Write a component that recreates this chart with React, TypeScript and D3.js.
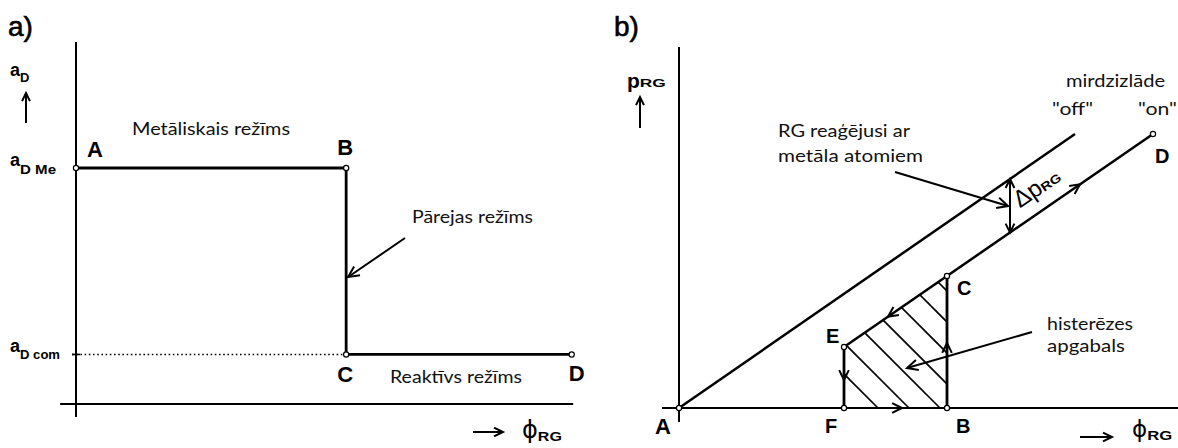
import React from "react";
import * as d3 from "d3";

const W = 1178;
const H = 448;

// Panel a): deposition rate a_D against reactive gas flow
const modeLabels = ["A", "B", "C", "D"];
const modePhi = [0, 0.545, 0.545, 1.0];
const modeRate = [1.0, 1.0, 0.21, 0.21];

// Panel b): reactive gas pressure p_RG against flow
const loopLabels = ["A", "F", "B", "C", "E", "D"];
const loopPhi = [0, 1.65, 2.68, 2.68, 1.65, 4.74];
const loopP = [0, 0, 0, 1.32, 0.61, 2.74];
const offLinePhi = [0, 3.96];
const offLineP = [0, 2.74];
const onLinePhi = [1.65, 4.74];
const onLineP = [0.61, 2.74];
const deltaPhi = 3.31;
const onArrowPhi = 4.01;
const hatchPhi = [1.99, 2.3, 2.61, 2.92, 3.23, 3.54, 3.85];

const xA = d3.scaleLinear().domain([0, 1]).range([76, 571.7]);
const yA = d3.scaleLinear().domain([0, 1]).range([404, 168]);
const xB = d3.scaleLinear().domain([0, 1]).range([679, 779]);
const yB = d3.scaleLinear().domain([0, 1]).range([408, 308]);

const ARIAL = "'Liberation Sans', Arial, sans-serif";
const SOFT = "Lato, 'Open Sans', sans-serif";
const STROKE = "#000";

// open chevron arrowhead; angle is the pointing direction in screen space
function head(x: number, y: number, angle: number, len = 10, spread = 26) {
  const a = (angle * Math.PI) / 180;
  const s = (spread * Math.PI) / 180;
  const p1 = [x - len * Math.cos(a - s), y - len * Math.sin(a - s)];
  const p2 = [x - len * Math.cos(a + s), y - len * Math.sin(a + s)];
  return `M${p1[0]},${p1[1]}L${x},${y}L${p2[0]},${p2[1]}`;
}

function Arrow({ x1, y1, x2, y2, len = 10, w = 2 }: any) {
  const ang = (Math.atan2(y2 - y1, x2 - x1) * 180) / Math.PI;
  return (
    <g stroke={STROKE} strokeWidth={w} fill="none">
      <line x1={x1} y1={y1} x2={x2} y2={y2} />
      <path d={head(x2, y2, ang, len)} />
    </g>
  );
}

function Dot({ x, y }: any) {
  return <circle cx={x} cy={y} r={2.6} fill="#fff" stroke={STROKE} strokeWidth={1.2} />;
}

function Sub({ x, y, main, sub, size = 18, subSize = 14, dy = 6, subLen }: any) {
  return (
    <text x={x} y={y} fontFamily={ARIAL} fontSize={size} fontWeight="bold" fill="#000">
      {main}
      <tspan fontSize={subSize} dy={dy} textLength={subLen} lengthAdjust="spacingAndGlyphs">
        {sub}
      </tspan>
    </text>
  );
}

function Soft({ x, y, text, len, size = 16 }: any) {
  return (
    <text x={x} y={y} fontFamily={SOFT} fontSize={size} textLength={len} lengthAdjust="spacingAndGlyphs" fill="#111">
      {text}
    </text>
  );
}

function Letter({ x, y, t, size = 21 }: any) {
  return (
    <text x={x} y={y} fontFamily={ARIAL} fontWeight="bold" fontSize={size} fill="#000">
      {t}
    </text>
  );
}

function PanelA() {
  const pts = modePhi.map((p, i) => [xA(p), yA(modeRate[i])]);
  const line = d3.line();
  const offs = [
    [11, -11],
    [-9, -13],
    [-9, 28],
    [-3, 27],
  ];
  const [bx] = pts[1];
  const [cx, cy] = pts[2];
  return (
    <g>
      <text x={8} y={36} fontFamily={ARIAL} fontSize={28} stroke="#000" strokeWidth={0.6}>a)</text>
      {/* axes */}
      <line x1={xA(0)} y1={yA(-0.055)} x2={xA(0)} y2={yA(1.534)} stroke={STROKE} strokeWidth={2} />
      <line x1={xA(-0.032)} y1={yA(0)} x2={xA(1.003)} y2={yA(0)} stroke={STROKE} strokeWidth={2} />
      {/* dotted guide to a_D com */}
      <line x1={xA(0) - 4} y1={cy} x2={cx} y2={cy} stroke={STROKE} strokeWidth={1.6} strokeDasharray="1.6 2.6" />
      <line x1={xA(0) - 4} y1={cy} x2={xA(0) + 4} y2={cy} stroke={STROKE} strokeWidth={1.6} />
      {/* the mode curve */}
      <path d={line(pts as any) || ""} fill="none" stroke={STROKE} strokeWidth={2.8} />
      {pts.map(([x, y], i) => (
        <g key={i}>
          <Dot x={x} y={y} />
          <Letter x={x + offs[i][0]} y={y + offs[i][1]} t={modeLabels[i]} size={22} />
        </g>
      ))}
      {/* axis titles */}
      <Sub x={10} y={76} main="a" sub="D" size={18} subSize={13} dy={6} />
      <Arrow x1={26} y1={123} x2={26} y2={93} len={9} />
      <Sub x={10} y={166} main="a" sub="D Me" size={18} subSize={13} dy={8} subLen={36} />
      <Sub x={10} y={352} main="a" sub="D com" size={18} subSize={13} dy={7} subLen={40} />
      <Arrow x1={473} y1={432} x2={503} y2={432} len={10} />
      <text x={522} y={438} fontFamily="'DejaVu Sans', sans-serif" fontSize={24}>
        ϕ
        <tspan fontFamily={ARIAL} fontWeight="bold" fontSize={12} dy={3} textLength={24} lengthAdjust="spacingAndGlyphs">RG</tspan>
      </text>
      {/* mode names */}
      <Soft x={132} y={135} text="Metāliskais režīms" len={158} size={17} />
      <Soft x={412} y={223} text="Pārejas režīms" len={121} size={17} />
      <Soft x={390} y={383} text="Reaktīvs režīms" len={132} size={17} />
      <Arrow x1={405} y1={238} x2={bx + 2} y2={277} len={12} />
    </g>
  );
}

function PanelB() {
  const line = d3.line();
  const pts = loopPhi.map((p, i) => [xB(p), yB(loopP[i])]);
  const [, F, Bp, C, E] = pts;
  const offPts = offLinePhi.map((p, i) => [xB(p), yB(offLineP[i])]);
  const onPts = onLinePhi.map((p, i) => [xB(p), yB(onLineP[i])]);
  const onAt = (phi: number) =>
    onLineP[0] + ((onLineP[1] - onLineP[0]) / (onLinePhi[1] - onLinePhi[0])) * (phi - onLinePhi[0]);
  const offAt = (phi: number) => (offLineP[1] / offLinePhi[1]) * phi;
  const loopPoly = [F, Bp, C, E];
  const offs = [
    [-24, 26],
    [-19, 25],
    [9, 25],
    [10, 19],
    [-18, -4],
    [2, 29],
  ];
  const slopeDeg = (Math.atan2(yB(onLineP[1]) - yB(onLineP[0]), xB(onLinePhi[1]) - xB(onLinePhi[0])) * 180) / Math.PI;
  const dX = xB(deltaPhi);
  const dTop = yB(offAt(deltaPhi));
  const dBot = yB(onAt(deltaPhi));
  return (
    <g>
      <text x={614} y={36} fontFamily={ARIAL} fontSize={28} stroke="#000" strokeWidth={0.6}>b)</text>
      <defs>
        <clipPath id="loopClip">
          <polygon points={loopPoly.map((p) => p.join(",")).join(" ")} />
        </clipPath>
      </defs>
      {/* hysteresis hatch */}
      <g clipPath="url(#loopClip)" stroke={STROKE} strokeWidth={1.6}>
        {hatchPhi.map((h, i) => (
          <line key={i} x1={xB(h)} y1={yB(0)} x2={xB(h) - 220} y2={yB(0) - 220} />
        ))}
      </g>
      {/* axes */}
      <line x1={xB(0)} y1={yB(-0.14)} x2={xB(0)} y2={yB(3.61)} stroke={STROKE} strokeWidth={2} />
      <line x1={xB(-0.17)} y1={yB(0)} x2={xB(4.99)} y2={yB(0)} stroke={STROKE} strokeWidth={2.2} />
      {/* glow discharge off / on characteristics */}
      <path d={line(offPts as any) || ""} stroke={STROKE} strokeWidth={2.5} fill="none" />
      <path d={line(onPts as any) || ""} stroke={STROKE} strokeWidth={2.5} fill="none" />
      <line x1={F[0]} y1={F[1]} x2={E[0]} y2={E[1]} stroke={STROKE} strokeWidth={2.8} />
      <line x1={Bp[0]} y1={Bp[1]} x2={C[0]} y2={C[1]} stroke={STROKE} strokeWidth={2.8} />
      {/* direction marks around the loop */}
      <g stroke={STROKE} strokeWidth={2} fill="none">
        <path d={head(xB(2.23), yB(0), 0, 11)} />
        <path d={head(C[0], yB(0.65), -90, 11)} />
        <path d={head(E[0], yB(0.28), 90, 11)} />
        <path d={head(xB(2.09), yB(onAt(2.09)), 180 + slopeDeg, 11)} />
        <path d={head(xB(onArrowPhi), yB(onAt(onArrowPhi)), slopeDeg, 11)} />
      </g>
      {pts.map(([x, y], i) => (
        <g key={i}>
          <Dot x={x} y={y} />
          <Letter x={x + offs[i][0]} y={y + offs[i][1]} t={loopLabels[i]} size={i === 0 ? 22 : 20} />
        </g>
      ))}
      {/* Δp between the two lines */}
      <g stroke={STROKE} strokeWidth={2} fill="none">
        <line x1={dX} y1={dTop} x2={dX} y2={dBot} />
        <path d={head(dX, dTop, -90, 10)} />
        <path d={head(dX, dBot, 90, 10)} />
      </g>
      <g transform={`translate(${dX + 10},${dBot - 24}) rotate(${slopeDeg})`}>
        <text x={0} y={0} fontFamily={ARIAL} fontSize={24}>
          Δp
          <tspan fontWeight="bold" fontSize={12} dy={0} textLength={22} lengthAdjust="spacingAndGlyphs">RG</tspan>
        </text>
      </g>
      {/* axis titles */}
      <text x={627} y={88} fontFamily={ARIAL} fontSize={21} fontWeight="bold">
        p
        <tspan fontSize={11} dy={-1} textLength={26} lengthAdjust="spacingAndGlyphs">RG</tspan>
      </text>
      <Arrow x1={640} y1={128} x2={640} y2={97} len={9} />
      <Arrow x1={1080} y1={437} x2={1112} y2={437} len={10} />
      <text x={1132} y={437} fontFamily="'DejaVu Sans', sans-serif" fontSize={23}>
        ϕ
        <tspan fontFamily={ARIAL} fontWeight="bold" fontSize={12} dy={3} textLength={25} lengthAdjust="spacingAndGlyphs">RG</tspan>
      </text>
      {/* annotations */}
      <Soft x={1066} y={87} text="mirdzizlāde" len={99} size={18} />
      <Soft x={1052} y={115} text={'"off"'} len={41} size={18} />
      <Soft x={1138} y={115} text={'"on"'} len={39} size={18} />
      <Soft x={778} y={137} text="RG reaģējusi ar" len={132} size={18} />
      <Soft x={778} y={162} text="metāla atomiem" len={145} size={18} />
      <Arrow x1={895} y1={172} x2={dX - 2} y2={206} len={12} />
      <Soft x={1047} y={330} text="histerēzes" len={86} size={18} />
      <Soft x={1047} y={352} text="apgabals" len={78} size={18} />
      <Arrow x1={1032} y1={332} x2={907} y2={368} len={12} />
    </g>
  );
}

export default function App() {
  return (
    <svg width={W} height={H} viewBox={`0 0 ${W} ${H}`} style={{ display: "block", position: "absolute", left: 0, top: 0, background: "#fff" }}>
      <rect width={W} height={H} fill="#fff" />
      <PanelA />
      <PanelB />
    </svg>
  );
}
